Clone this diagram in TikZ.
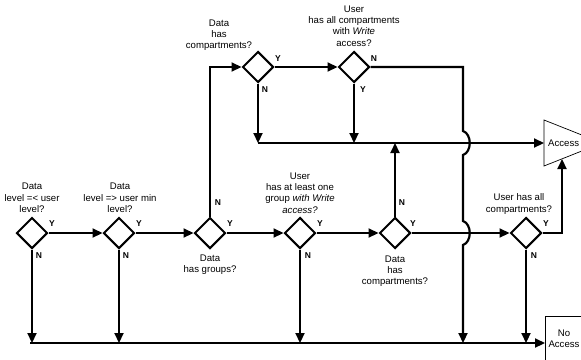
\documentclass[tikz,border=0pt]{standalone}
\usepackage{fontspec}
\setmainfont{Liberation Sans}
\usetikzlibrary{shapes.geometric,arrows.meta}
\begin{document}
\begin{tikzpicture}[x=1pt,y=-1pt,
  dec/.style={diamond,draw,line width=2pt,minimum size=31pt,inner sep=0pt},
  flow/.style={line width=2.2pt},
  arr/.style={flow,-{Triangle[length=10pt,width=9pt]}},
  lbl/.style={font=\fontsize{9.6}{11.3}\selectfont,align=center,inner sep=0pt},
  yn/.style={font=\bfseries\fontsize{8.5}{9}\selectfont,inner sep=0pt},
  outline/.style={draw,line width=0.7pt}]
\fill[white] (0,0) rectangle (581,359);
\useasboundingbox (0,0) rectangle (581,359);

% decision diamonds
\node[dec] (d1) at (32,233) {};
\node[dec] (d2) at (119,233) {};
\node[dec] (d3) at (210,233) {};
\node[dec] (d4) at (300,233) {};
\node[dec] (d5) at (395,233) {};
\node[dec] (d6) at (526,233) {};
\node[dec] (d7) at (258,67) {};
\node[dec] (d8) at (354,67) {};

% questions
\node[lbl] (q1) at (32,198) {Data\\level =< user\\level?};
\node[lbl] (q2) at (120,198) {Data\\level => user min\\level?};
\node[lbl] (q3) at (210,265) {Data\\has groups?};
\node[lbl] (q4) at (300,193) {User\\has at least one\\group \emph{with Write}\\\emph{access?}};
\node[lbl] (q5) at (395,271) {Data\\has\\compartments?};
\node[lbl] (q6) at (519,204) {User has all\\compartments?};
\node[lbl] (q7) at (219,35) {Data\\has\\compartments?};
\node[lbl] (q8) at (354,26) {User\\has all compartments\\with \emph{Write}\\access?};

% outcomes
\coordinate (acc) at (544,143);
\draw[outline] (544,120) -- (544,166) -- (602,143) -- cycle;
\node[lbl,anchor=west] (acctext) at (548,143) {Access};
\coordinate (accb) at (562,159);
\node[outline,minimum width=60pt,minimum height=56pt,anchor=north west] (noacc) at (545,316) {};
\node[lbl] (noacctext) at (564,339) {No\\Access};

% line collecting every refusal
\coordinate (bl) at (30,343);
\draw[arr] (bl) -- (noacc.west |- bl);
% line collecting every grant
\coordinate (al) at (258,143);
\draw[arr] (al) -- (acc);

% yes branches
\draw[arr] (d1.east) -- (d2.west);
\draw[arr] (d2.east) -- (d3.west);
\draw[arr] (d3.east) -- (d4.west);
\draw[arr] (d4.east) -- (d5.west);
\draw[arr] (d5.east) -- (d6.west);
\draw[arr] (d7.east) -- (d8.west);
\draw[arr] (d8.south) -- (d8 |- al);
\coordinate (c6) at (562,233);
\draw[arr] (d6.east) -- (c6) -- (accb);

% no branches
\draw[arr] (d1.south) -- (d1 |- bl);
\draw[arr] (d2.south) -- (d2 |- bl);
\draw[arr] (d3.north) |- (d7.west);
\draw[arr] (d4.south) -- (d4 |- bl);
\draw[arr] (d5.north) -- (d5 |- al);
\draw[arr] (d6.south) -- (d6 |- bl);
\draw[arr] (d7.south) -- (al);
% hops over the two horizontal lines it crosses
\coordinate (c8) at (463,67);
\draw[arr] (d8.east) -- (c8) -- (463,131) .. controls (472,134) and (472,152) .. (463,155)
  -- (463,221) .. controls (472,224) and (472,242) .. (463,245) -- (c8 |- bl);

% answer marks
\node[yn] at (52,224) {Y};
\node[yn] at (39,256) {N};
\node[yn] at (139,224) {Y};
\node[yn] at (126,256) {N};
\node[yn] at (230,224) {Y};
\node[yn] at (218,203) {N};
\node[yn] at (320,224) {Y};
\node[yn] at (308,256) {N};
\node[yn] at (413,224) {Y};
\node[yn] at (402,203) {N};
\node[yn] at (546,224) {Y};
\node[yn] at (534,256) {N};
\node[yn] at (278,59) {Y};
\node[yn] at (265,90) {N};
\node[yn] at (374,59) {N};
\node[yn] at (363,90) {Y};
\end{tikzpicture}
\end{document}
